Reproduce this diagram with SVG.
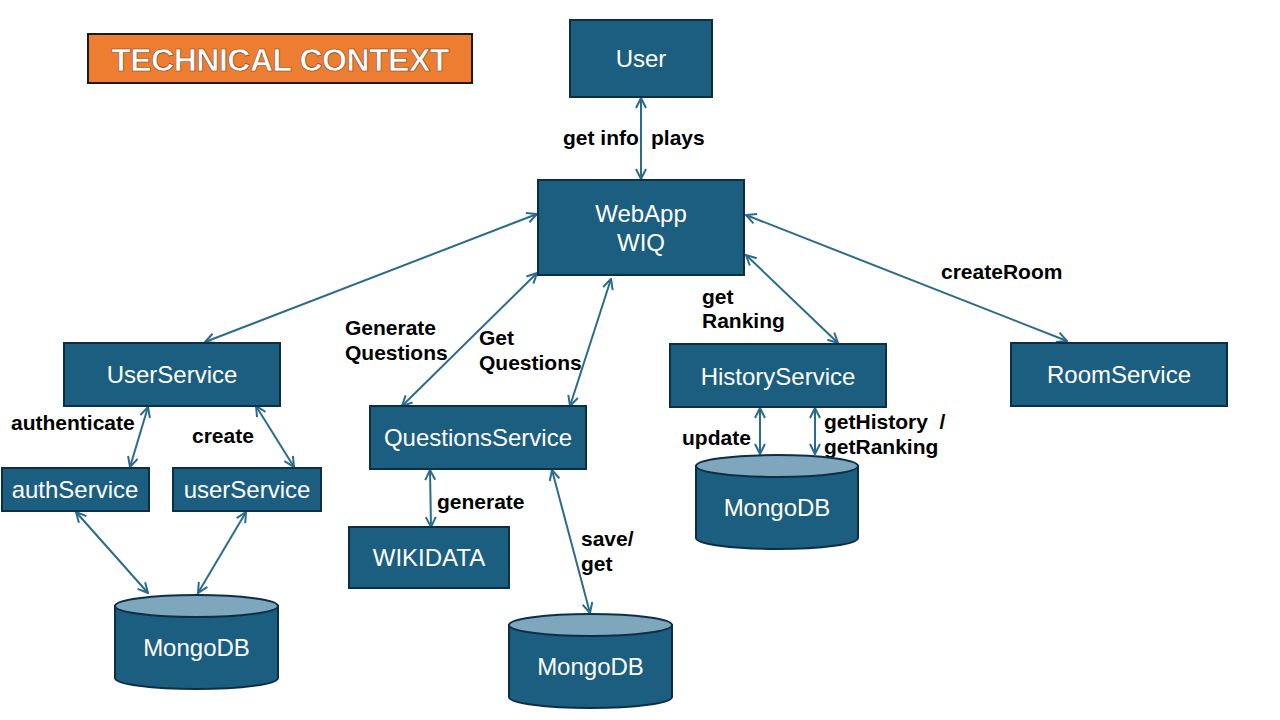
<svg xmlns="http://www.w3.org/2000/svg" width="1280" height="720" viewBox="0 0 1280 720">
<style>
.box{fill:#1b5e80;stroke:#0d2f45;stroke-width:2}
.top{fill:#7ea7bd;stroke:#0d2f45;stroke-width:2}
.nt{font-family:"Liberation Sans",Arial,sans-serif;font-size:24px;fill:#ffffff;text-anchor:middle}
.lb{font-family:"Liberation Sans",Arial,sans-serif;font-size:21px;font-weight:bold;fill:#000000}
.cn{stroke:#2a6b8e;stroke-width:2;fill:none;marker-start:url(#ah);marker-end:url(#ah)}
</style>
<defs>
<marker id="ah" viewBox="0 0 12 12" refX="11" refY="6" markerWidth="12" markerHeight="12" markerUnits="userSpaceOnUse" orient="auto-start-reverse">
<path d="M1,1 L11,6 L1,11" fill="none" stroke="#2a6b8e" stroke-width="2"/>
</marker>
</defs>
<rect width="1280" height="720" fill="#ffffff"/>
<g id="title">
<rect x="88" y="34" width="384" height="49" fill="#ed7d31" stroke="#1a1a1a" stroke-width="2"/>
<text x="280" y="71" font-family="Liberation Sans,Arial,sans-serif" font-size="32" font-weight="bold" fill="#ffffff" text-anchor="middle" stroke="#7a3a10" stroke-width="0.6" letter-spacing="-0.5">TECHNICAL CONTEXT</text>
</g>
<g id="connectors">
<line class="cn" x1="641" y1="98" x2="641" y2="179"/>
<line class="cn" x1="537" y1="214" x2="205" y2="342"/>
<line class="cn" x1="537" y1="273" x2="402" y2="406"/>
<line class="cn" x1="611" y1="279" x2="570" y2="406"/>
<line class="cn" x1="746" y1="255" x2="838" y2="343"/>
<line class="cn" x1="746" y1="215" x2="1067" y2="341"/>
<line class="cn" x1="148" y1="407" x2="130" y2="467"/>
<line class="cn" x1="256" y1="406" x2="294" y2="467"/>
<line class="cn" x1="76" y1="512" x2="148" y2="593"/>
<line class="cn" x1="246" y1="512" x2="198" y2="593"/>
<line class="cn" x1="430" y1="470" x2="431" y2="527"/>
<line class="cn" x1="552" y1="470" x2="590" y2="613"/>
<line class="cn" x1="760" y1="408" x2="760" y2="454"/>
<line class="cn" x1="815" y1="408" x2="815" y2="454"/>
</g>
<g id="labels">
<text class="lb" x="563" y="145">get info</text>
<text class="lb" x="651" y="145">plays</text>
<text class="lb" x="345" y="335">Generate</text>
<text class="lb" x="345" y="360">Questions</text>
<text class="lb" x="479" y="345">Get</text>
<text class="lb" x="479" y="370">Questions</text>
<text class="lb" x="702" y="304">get</text>
<text class="lb" x="702" y="328">Ranking</text>
<text class="lb" x="941" y="279">createRoom</text>
<text class="lb" x="11" y="430">authenticate</text>
<text class="lb" x="192" y="443">create</text>
<text class="lb" x="682" y="445">update</text>
<text class="lb" x="824" y="429" xml:space="preserve">getHistory  /</text>
<text class="lb" x="824" y="454">getRanking</text>
<text class="lb" x="437" y="509">generate</text>
<text class="lb" x="581" y="546">save/</text>
<text class="lb" x="581" y="571">get</text>
</g>
<g id="user"><rect class="box" x="570" y="20" width="142" height="77"/><text class="nt" x="641" y="67">User</text></g>
<g id="webapp"><rect class="box" x="538" y="180" width="206" height="95"/><text class="nt" x="641" y="222">WebApp</text><text class="nt" x="641" y="251">WIQ</text></g>
<g id="userservice"><rect class="box" x="64" y="343" width="216" height="63"/><text class="nt" x="172" y="383">UserService</text></g>
<g id="authservice"><rect class="box" x="2" y="468" width="147" height="43"/><text class="nt" x="75" y="498">authService</text></g>
<g id="userservice2"><rect class="box" x="173" y="468" width="148" height="43"/><text class="nt" x="247" y="498">userService</text></g>
<g id="questionsservice"><rect class="box" x="370" y="406" width="216" height="63"/><text class="nt" x="478" y="446">QuestionsService</text></g>
<g id="wikidata"><rect class="box" x="349" y="527" width="160" height="61"/><text class="nt" x="429" y="566">WIKIDATA</text></g>
<g id="historyservice"><rect class="box" x="670" y="344" width="216" height="63"/><text class="nt" x="778" y="385">HistoryService</text></g>
<g id="roomservice"><rect class="box" x="1011" y="343" width="216" height="63"/><text class="nt" x="1119" y="383">RoomService</text></g>
<g id="mongo1">
<path class="box" d="M115,606 L115,678 A81.5,11 0 0 0 278,678 L278,606 Z"/>
<ellipse class="top" cx="196.5" cy="606" rx="81.5" ry="11"/>
<text class="nt" x="196.5" y="656">MongoDB</text>
</g>
<g id="mongo2">
<path class="box" d="M509,625 L509,697 A81.5,11 0 0 0 672,697 L672,625 Z"/>
<ellipse class="top" cx="590.5" cy="625" rx="81.5" ry="11"/>
<text class="nt" x="590.5" y="675">MongoDB</text>
</g>
<g id="mongo3">
<path class="box" d="M696,466 L696,538 A81,11 0 0 0 858,538 L858,466 Z"/>
<ellipse class="top" cx="777" cy="466" rx="81" ry="11"/>
<text class="nt" x="777" y="516">MongoDB</text>
</g>
</svg>
